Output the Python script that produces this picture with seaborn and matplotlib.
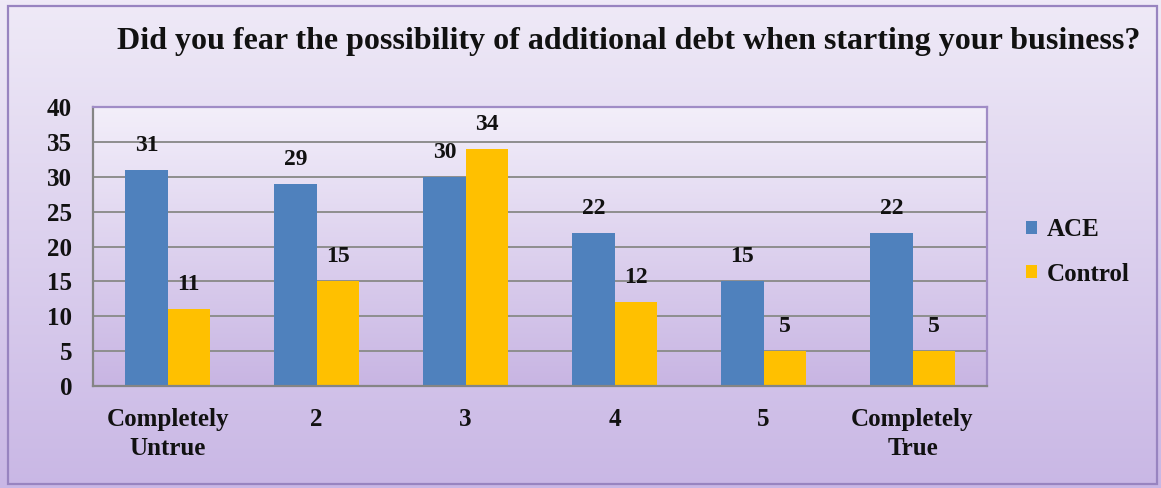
import numpy as np
import pandas as pd
import matplotlib
matplotlib.use("Agg")
import matplotlib.pyplot as plt
import seaborn as sns
from matplotlib.colors import LinearSegmentedColormap
from matplotlib.patches import Rectangle

# Survey responses per answer category
categories = ["Completely\nUntrue", "2", "3", "4", "5", "Completely\nTrue"]
ace = [31, 29, 30, 22, 15, 22]
control = [11, 15, 34, 12, 5, 5]
series = ["ACE", "Control"]
yticks = [0, 5, 10, 15, 20, 25, 30, 35, 40]
title = "Did you fear the possibility of additional debt when starting your business?"

df = pd.DataFrame({
    "category": categories * 2,
    "group": [series[0]] * len(ace) + [series[1]] * len(control),
    "count": ace + control,
})

sns.set_theme(style="white")
plt.rcParams["font.family"] = ["Liberation Serif", "DejaVu Serif"]
plt.rcParams["font.weight"] = "bold"
plt.rcParams["text.color"] = "#111111"
plt.rcParams["xtick.color"] = "#111111"
plt.rcParams["ytick.color"] = "#111111"

W, H = 1161, 488
fig = plt.figure(figsize=(W / 100, H / 100), dpi=100)

# Figure background: soft lavender gradient with a purple frame
grad = np.linspace(0, 1, 256).reshape(-1, 1)
bg = fig.add_axes([0, 0, 1, 1], zorder=0)
bg.imshow(grad, aspect="auto", extent=[0, 1, 0, 1], origin="upper",
          cmap=LinearSegmentedColormap.from_list("bg", ["#EFEAF7", "#C9B7E5"]))
bg.add_patch(Rectangle((8 / W, 1 - 484 / H), (1157 - 8) / W, (484 - 6) / H,
                       fill=False, ec="#9884C0", lw=1.6))
bg.set_xlim(0, 1)
bg.set_ylim(0, 1)
bg.axis("off")

# Plot area
pos = [93 / W, 1 - 386 / H, (987 - 93) / W, (386 - 107) / H]
pa = fig.add_axes(pos, zorder=1)
pa.imshow(grad, aspect="auto", extent=[0, 1, 0, 1], origin="upper",
          cmap=LinearSegmentedColormap.from_list("pa", ["#F3EFFA", "#C8B5E3"]))
pa.set_xlim(0, 1)
pa.set_ylim(0, 1)
pa.axis("off")

ax = fig.add_axes(pos, zorder=2)
ax.patch.set_alpha(0)
sns.barplot(data=df, x="category", y="count", hue="group",
            palette=["#4F81BD", "#FFC000"], width=0.565, gap=0,
            saturation=1, linewidth=0, edgecolor="none", ax=ax, legend=True)

ax.set_ylim(0, 40)
ax.set_yticks(yticks)
ax.yaxis.grid(True, color="#8E8E8E", lw=1.4)
ax.set_axisbelow(True)
ax.set_xlabel("")
ax.set_ylabel("")
ax.tick_params(axis="y", length=0, pad=15, labelsize=18)
ax.tick_params(axis="x", length=0, pad=16, labelsize=18)
for lbl in ax.get_xticklabels():
    lbl.set_linespacing(1.3)
    lbl.set_fontweight("bold")
for lbl in ax.get_yticklabels():
    lbl.set_fontweight("bold")

for side in ["left", "bottom"]:
    ax.spines[side].set_color("#858585")
    ax.spines[side].set_linewidth(1.6)
for side in ["top", "right"]:
    ax.spines[side].set_color("#A08CC6")
    ax.spines[side].set_linewidth(1.6)

for cont in ax.containers:
    ax.bar_label(cont, padding=10, fontsize=17, fontweight="bold", color="#111111")

handles, labels = ax.get_legend_handles_labels()
ax.legend(handles, labels, loc="center left",
          bbox_to_anchor=(1003 / W, 1 - 252 / H), bbox_transform=fig.transFigure,
          frameon=False, handlelength=0.45, handleheight=0.45,
          handletextpad=0.4, labelspacing=0.85, prop={"weight": "bold", "size": 18})

fig.text(629 / W, 1 - 41 / H, title, ha="center", va="center",
         fontsize=23, fontweight="bold", color="#111111")

fig.savefig("out.png", dpi=100)
